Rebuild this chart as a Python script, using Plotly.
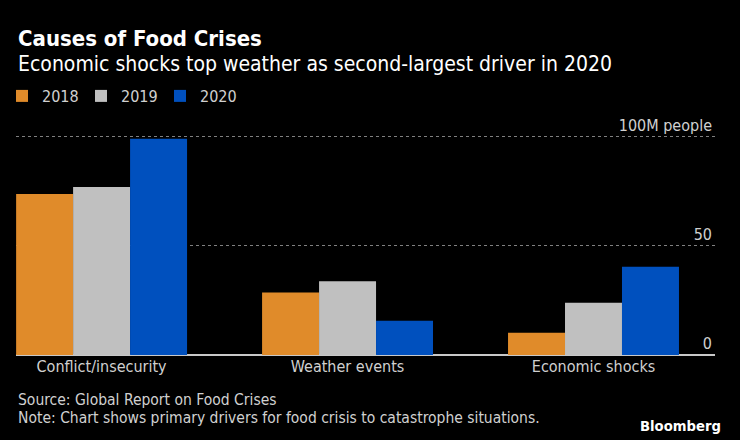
import plotly.graph_objects as go

categories = ["Conflict/insecurity", "Weather events", "Economic shocks"]
years = ["2018", "2019", "2020"]
values_2018 = [73.8, 28.7, 10.2]
values_2019 = [77.0, 33.8, 24.0]
values_2020 = [99.1, 15.7, 40.5]
tick_vals = [0, 50, 100]
tick_labels = ["0", "50", "100M people"]

colors = ["#E08B2A", "#C0C0C0", "#0050BE"]
FONT = "DejaVu Sans Condensed, Liberation Sans Narrow, sans-serif"

PLOT_TOP, PLOT_BOTTOM = 126, 355


def py(pix):
    return (PLOT_BOTTOM - pix) / (PLOT_BOTTOM - PLOT_TOP)


fig = go.Figure()
for name, vals, col in zip(years, [values_2018, values_2019, values_2020], colors):
    fig.add_trace(go.Bar(name=name, x=categories, y=vals, marker=dict(color=col, line=dict(width=0))))

fig.update_layout(
    width=740, height=440,
    paper_bgcolor="#000000", plot_bgcolor="#000000",
    margin=dict(l=16, r=25, t=PLOT_TOP, b=440 - PLOT_BOTTOM, autoexpand=False),
    barmode="group", bargap=0.305, bargroupgap=0,
    font=dict(family=FONT, color="#d0d0d0", size=16),
    showlegend=True,
    legend=dict(orientation="h", x=-0.020, xanchor="left", yref="container", y=1 - 96/440, yanchor="middle",
                font=dict(size=16, color="#d0d0d0"), traceorder="normal",
                entrywidth=34, entrywidthmode="pixels",
                bgcolor="rgba(0,0,0,0)"),
    xaxis=dict(range=[-0.348, 2.494], showgrid=False, showline=False, ticks="",
               tickfont=dict(size=16, color="#d0d0d0"), zeroline=False, automargin=False),
    yaxis=dict(range=[0, 105], side="right", tickvals=tick_vals, ticktext=tick_labels,
               ticklabelposition="inside top", ticklabeloverflow="allow", automargin=False,
               showgrid=True, gridcolor="#808080", griddash="dot", gridwidth=1,
               zeroline=True, zerolinecolor="#c8c8c8", zerolinewidth=1.5,
               tickfont=dict(size=16, color="#d0d0d0"), showline=False, ticks=""),
    annotations=[
        dict(text="<b>Causes of Food Crises</b>", xref="paper", yref="paper", x=0, y=py(38),
             xanchor="left", yanchor="middle", showarrow=False,
             font=dict(size=22, color="#ffffff", family=FONT)),
        dict(text="Economic shocks top weather as second-largest driver in 2020", xref="paper", yref="paper",
             x=0, y=py(64), xanchor="left", yanchor="middle", showarrow=False,
             font=dict(size=21, color="#ffffff", family=FONT)),
        dict(text="Source: Global Report on Food Crises", xref="paper", yref="paper",
             x=0, y=py(400), xanchor="left", yanchor="middle", showarrow=False,
             font=dict(size=15.5, color="#d0d0d0", family=FONT)),
        dict(text="Note: Chart shows primary drivers for food crisis to catastrophe situations.", xref="paper",
             yref="paper", x=0, y=py(418), xanchor="left", yanchor="middle", showarrow=False,
             font=dict(size=15.5, color="#d0d0d0", family=FONT)),
        dict(text="<b>Bloomberg</b>", xref="paper", yref="paper", x=1.0115, y=py(425),
             xanchor="right", yanchor="middle", showarrow=False,
             font=dict(size=14.7, color="#ffffff", family=FONT)),
    ],
)

fig.write_html("out.html", config={"displayModeBar": False},
               post_script="document.body.style.margin='0';document.body.style.background='#000';")
